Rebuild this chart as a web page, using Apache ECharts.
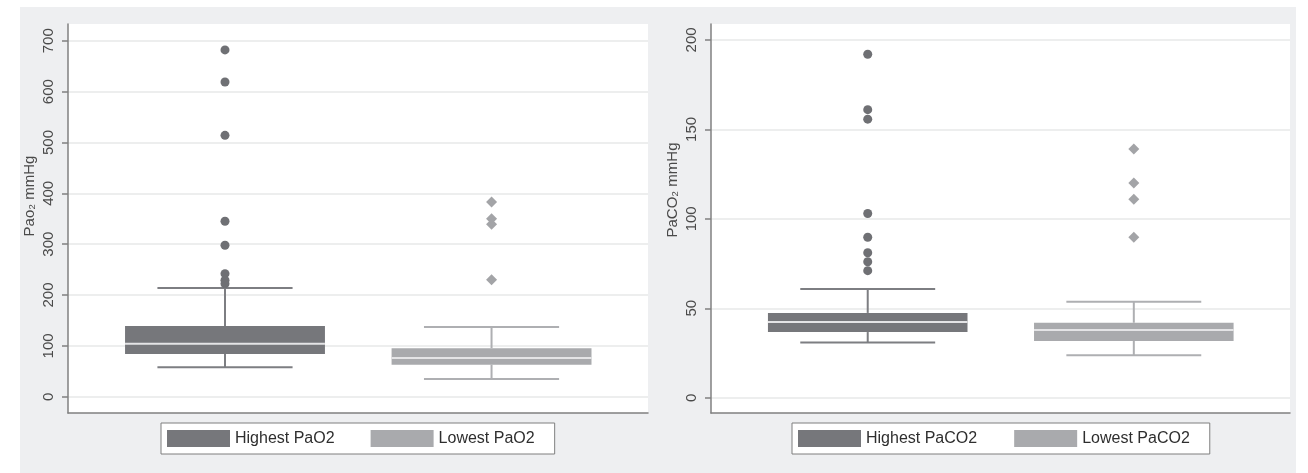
<!DOCTYPE html>
<html>
<head>
<meta charset="utf-8">
<script src="https://cdn.jsdelivr.net/npm/echarts@6/dist/echarts.min.js"></script>
<style>
  html, body { margin: 0; padding: 0; background: #ffffff; }
  #chart { width: 1308px; height: 473px; }
</style>
</head>
<body>
<div id="chart"></div>
<script>
// ---------- data ----------
const paO2Names = ['Highest PaO2', 'Lowest PaO2'];
const paCO2Names = ['Highest PaCO2', 'Lowest PaCO2'];
// box stats: [lower whisker, Q1, median, Q3, upper whisker]
const paO2HighestBox = [58, 84, 104, 139, 214];
const paO2LowestBox = [35, 63, 76, 95.5, 137];
const paO2HighestOutliers = [682, 619, 514, 345, 298, 242, 229, 222];
const paO2LowestOutliers = [383, 350, 339, 230];
const paCO2HighestBox = [30.8, 36.7, 42.3, 47.4, 60.8];
const paCO2LowestBox = [23.7, 31.7, 37.9, 41.9, 53.7];
const paCO2HighestOutliers = [192, 161, 155.7, 103, 89.7, 81, 76, 71];
const paCO2LowestOutliers = [139, 120, 111, 89.7];
const paO2Ticks = [0, 100, 200, 300, 400, 500, 600, 700];
const paCO2Ticks = [0, 50, 100, 150, 200];
const groupPositions = [1, 2];

// ---------- styles ----------
const darkColor = '#76777b';
const lightColor = '#a9aaad';
const darkWhisker = '#7d7e82';
const lightWhisker = '#aeafb2';
const darkPoint = '#6f7074';
const lightPoint = '#a3a4a7';
const medianColor = '#e4e4e6';
const axisColor = '#808080';
const gridColor = '#e7e8e9';
const labelColor = '#4a4a4a';
const font = "'Liberation Sans', Arial, Helvetica, sans-serif";
const BOX_W = 0.75, CAP_W = 0.507;

function makeRender(whiskerColor) {
  return function (params, api) {
    const x = api.value(0);
    const pLo = api.coord([x, api.value(1)]);
    const pQ1 = api.coord([x, api.value(2)]);
    const pMed = api.coord([x, api.value(3)]);
    const pQ3 = api.coord([x, api.value(4)]);
    const pHi = api.coord([x, api.value(5)]);
    const bw = api.size([BOX_W, 0])[0];
    const cw = api.size([CAP_W, 0])[0];
    const fill = api.visual('color');
    const ls = { stroke: whiskerColor, lineWidth: 2 };
    return {
      type: 'group',
      children: [
        { type: 'line', shape: { x1: pHi[0], y1: pHi[1], x2: pQ3[0], y2: pQ3[1] }, style: ls },
        { type: 'line', shape: { x1: pLo[0], y1: pLo[1], x2: pQ1[0], y2: pQ1[1] }, style: ls },
        { type: 'line', shape: { x1: pHi[0] - cw / 2, y1: pHi[1], x2: pHi[0] + cw / 2, y2: pHi[1] }, style: ls },
        { type: 'line', shape: { x1: pLo[0] - cw / 2, y1: pLo[1], x2: pLo[0] + cw / 2, y2: pLo[1] }, style: ls },
        { type: 'rect', shape: { x: pQ3[0] - bw / 2, y: pQ3[1], width: bw, height: pQ1[1] - pQ3[1] }, style: { fill: fill } },
        { type: 'line', shape: { x1: pMed[0] - bw / 2, y1: pMed[1], x2: pMed[0] + bw / 2, y2: pMed[1] }, style: { stroke: medianColor, lineWidth: 2 } }
      ]
    };
  };
}

function boxSeries(name, pos, stats, color, whisker, idx) {
  return {
    name: name, type: 'custom', xAxisIndex: idx, yAxisIndex: idx,
    itemStyle: { color: color },
    renderItem: makeRender(whisker),
    encode: { x: 0, y: [1, 2, 3, 4, 5] },
    data: [[pos].concat(stats)],
    z: 3
  };
}
function outlierSeries(name, pos, vals, color, symbol, size, idx) {
  return {
    name: name, type: 'scatter', xAxisIndex: idx, yAxisIndex: idx,
    symbol: symbol, symbolSize: size,
    itemStyle: { color: color, opacity: 1 },
    data: vals.map(v => [pos, v]),
    z: 4
  };
}

const xAxisBase = {
  type: 'value', min: 0.411, max: 2.587,
  axisLine: { show: true, onZero: false, lineStyle: { color: axisColor, width: 1.5 } },
  axisTick: { show: false }, axisLabel: { show: false }, splitLine: { show: false }
};
function yAxisBase(min, max, ticks, idx) {
  return {
    type: 'value', gridIndex: idx, min: min, max: max,
    axisLine: { show: true, onZero: false, lineStyle: { color: axisColor, width: 1.5 } },
    axisTick: { show: true, length: 6, customValues: ticks, lineStyle: { color: axisColor, width: 1.5 } },
    axisLabel: { show: true, customValues: ticks, rotate: 90, margin: 12, fontSize: 15, color: labelColor, fontFamily: font },
    splitLine: { show: true, lineStyle: { color: gridColor, width: 1.5 } }
  };
}
function legendFor(names, left, gap, pad) {
  return {
    left: left, top: 423, orient: 'horizontal',
    itemWidth: 63, itemHeight: 17, itemGap: gap,
    padding: pad, backgroundColor: '#ffffff', borderColor: '#7f7f7f', borderWidth: 1, borderRadius: 0,
    textStyle: { fontSize: 16, color: '#2e2e2e', fontFamily: font },
    data: [
      { name: names[0], icon: 'rect', itemStyle: { color: darkColor } },
      { name: names[1], icon: 'rect', itemStyle: { color: lightColor } }
    ],
    selectedMode: false
  };
}

const chart = echarts.init(document.getElementById('chart'), null, { renderer: 'canvas' });
chart.setOption({
  animation: false,
  backgroundColor: '#ffffff',
  textStyle: { fontFamily: font },
  graphic: [
    { type: 'rect', z: -100, silent: true, shape: { x: 20, y: 7, width: 1276, height: 466 }, style: { fill: '#eeeff1' } },
    { type: 'text', z: 10, x: 30, y: 196, rotation: Math.PI / 2,
      style: { text: 'Pao₂ mmHg', fontSize: 15, fill: labelColor, fontFamily: font, align: 'center', verticalAlign: 'middle' } },
    { type: 'text', z: 10, x: 673, y: 190, rotation: Math.PI / 2,
      style: { text: 'PaCO₂ mmHg', fontSize: 15, fill: labelColor, fontFamily: font, align: 'center', verticalAlign: 'middle' } }
  ],
  grid: [
    { left: 68, top: 24, width: 580, height: 389, show: true, backgroundColor: '#ffffff', borderWidth: 0 },
    { left: 711, top: 24, width: 579, height: 389, show: true, backgroundColor: '#ffffff', borderWidth: 0 }
  ],
  xAxis: [
    Object.assign({ gridIndex: 0 }, xAxisBase),
    Object.assign({ gridIndex: 1 }, xAxisBase)
  ],
  yAxis: [
    yAxisBase(-32, 733, paO2Ticks, 0),
    yAxisBase(-8.55, 208.9, paCO2Ticks, 1)
  ],
  legend: [
    legendFor(paO2Names, 161, 36, [7, 20, 7, 6]),
    legendFor(paCO2Names, 792, 37, [7, 20, 7, 6])
  ],
  series: [
    boxSeries(paO2Names[0], groupPositions[0], paO2HighestBox, darkColor, darkWhisker, 0),
    boxSeries(paO2Names[1], groupPositions[1], paO2LowestBox, lightColor, lightWhisker, 0),
    outlierSeries(paO2Names[0], groupPositions[0], paO2HighestOutliers, darkPoint, 'circle', 9, 0),
    outlierSeries(paO2Names[1], groupPositions[1], paO2LowestOutliers, lightPoint, 'diamond', 11, 0),
    boxSeries(paCO2Names[0], groupPositions[0], paCO2HighestBox, darkColor, darkWhisker, 1),
    boxSeries(paCO2Names[1], groupPositions[1], paCO2LowestBox, lightColor, lightWhisker, 1),
    outlierSeries(paCO2Names[0], groupPositions[0], paCO2HighestOutliers, darkPoint, 'circle', 9, 1),
    outlierSeries(paCO2Names[1], groupPositions[1], paCO2LowestOutliers, lightPoint, 'diamond', 11, 1)
  ]
});
</script>
</body>
</html>
